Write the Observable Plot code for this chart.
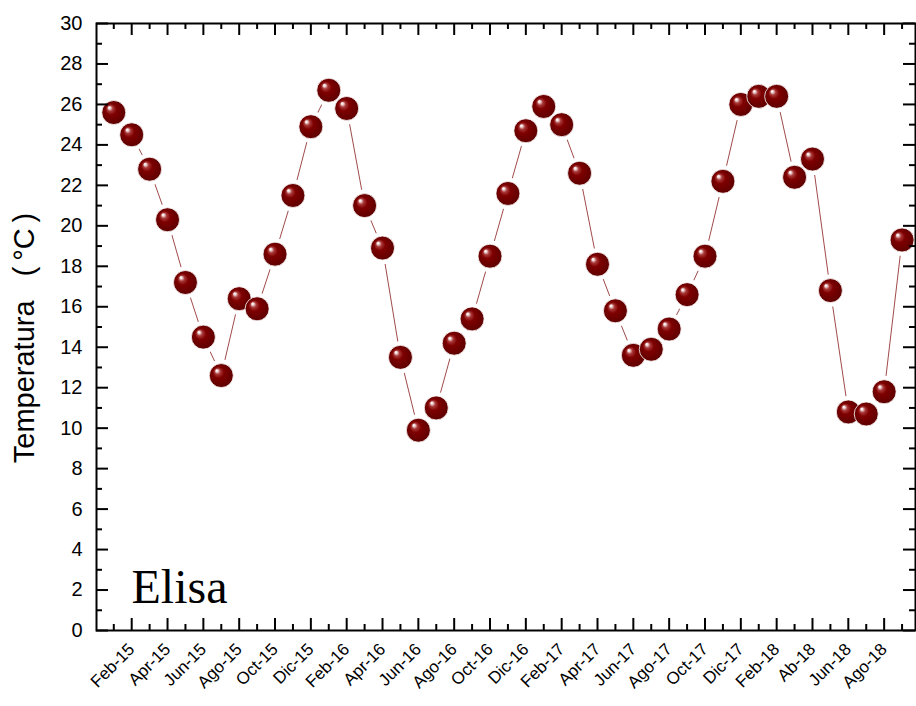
<!DOCTYPE html>
<html><head><meta charset="utf-8">
<script src="https://cdn.jsdelivr.net/npm/d3@7"></script>
<script src="https://cdn.jsdelivr.net/npm/@observablehq/plot@0.6"></script>
<style>body{margin:0;background:#fff} #chart{width:916px;height:706px}</style>
</head><body><div id="chart"></div>
<script>
const months = ["Ene-15","Feb-15","Mar-15","Abr-15","May-15","Jun-15","Jul-15","Ago-15","Sep-15","Oct-15","Nov-15","Dic-15",
  "Ene-16","Feb-16","Mar-16","Abr-16","May-16","Jun-16","Jul-16","Ago-16","Sep-16","Oct-16","Nov-16","Dic-16",
  "Ene-17","Feb-17","Mar-17","Abr-17","May-17","Jun-17","Jul-17","Ago-17","Sep-17","Oct-17","Nov-17","Dic-17",
  "Ene-18","Feb-18","Mar-18","Abr-18","May-18","Jun-18","Jul-18","Ago-18","Sep-18"];
const temps = [25.6, 24.5, 22.8, 20.3, 17.2, 14.5, 12.6, 16.4, 15.9, 18.6, 21.5, 24.9,
  26.7, 25.8, 21.0, 18.9, 13.5, 9.9, 11.0, 14.2, 15.4, 18.5, 21.6, 24.7,
  25.9, 25.0, 22.6, 18.1, 15.8, 13.6, 13.9, 14.9, 16.6, 18.5, 22.2, 26.0,
  26.4, 26.4, 22.4, 23.3, 16.8, 10.8, 10.7, 11.8, 19.3];
const tickLabels = ["Feb-15","Apr-15","Jun-15","Ago-15","Oct-15","Dic-15","Feb-16","Apr-16","Jun-16","Ago-16","Oct-16","Dic-16",
  "Feb-17","Apr-17","Jun-17","Ago-17","Oct-17","Dic-17","Feb-18","Ab-18","Jun-18","Ago-18"];
const yMajor = [0,2,4,6,8,10,12,14,16,18,20,22,24,26,28,30];
const yMinor = [1,3,5,7,9,11,13,15,17,19,21,23,25,27,29];
const seriesName = "Elisa";
const yTitle = "Temperatura\u00a0\u00a0\u00a0(\u2009°C\u2009)";

const data = months.map((m, i) => ({i, month: m, t: temps[i]}));
const xMajor = tickLabels.map((_, k) => 2 * k + 1);
const xMinor = months.map((_, i) => i).filter(i => i % 2 === 0);

const W = 916, H = 706, mL = 96, mR = 1, mT = 23, mB = 76;
const FW = W - mL - mR, FH = H - mT - mB;
const MAJ = 12, MIN = 6;

const plot = Plot.plot({
  width: W, height: H,
  marginLeft: mL, marginRight: mR, marginTop: mT, marginBottom: mB,
  style: {fontFamily: "'Liberation Sans', Arial, sans-serif", background: "white", color: "black"},
  x: {domain: [-0.965, 44.75]},
  y: {domain: [0, 30]},
  marks: [
    Plot.line(data, {x: "i", y: "t", stroke: "#a04a4a", strokeWidth: 1}),
    Plot.dot(data, {x: "i", y: "t", r: 16, fill: "white"}),
    Plot.dot(data, {x: "i", y: "t", r: 12, fill: "url(#sphere)", stroke: "white", strokeWidth: 0.8}),
    Plot.tickX(xMajor, {x: d => d, insetTop: FH - MAJ, stroke: "black", strokeWidth: 2}),
    Plot.tickX(xMinor, {x: d => d, insetTop: FH - MIN, stroke: "black", strokeWidth: 2}),
    Plot.tickX(xMajor, {x: d => d, insetBottom: FH - MAJ, stroke: "black", strokeWidth: 2}),
    Plot.tickX(xMinor, {x: d => d, insetBottom: FH - MIN, stroke: "black", strokeWidth: 2}),
    Plot.tickY(yMajor, {y: d => d, insetRight: FW - MAJ, stroke: "black", strokeWidth: 2}),
    Plot.tickY(yMinor, {y: d => d, insetRight: FW - MIN, stroke: "black", strokeWidth: 2}),
    Plot.tickY(yMajor, {y: d => d, insetLeft: FW - MAJ, stroke: "black", strokeWidth: 2}),
    Plot.tickY(yMinor, {y: d => d, insetLeft: FW - MIN, stroke: "black", strokeWidth: 2}),
    Plot.frame({stroke: "black", strokeWidth: 2}),
    Plot.axisY({ticks: yMajor, tickSize: 0, tickPadding: 14, fontSize: 20, label: null}),
    Plot.axisX({ticks: xMajor, tickFormat: d => tickLabels[(d - 1) / 2], tickRotate: -45, tickSize: 0, tickPadding: 16, fontSize: 17, label: null}),
    Plot.text([seriesName], {frameAnchor: "bottom-left", dx: 35, dy: -28, textAnchor: "start", lineAnchor: "bottom", fontSize: 48, fontFamily: "'Liberation Serif', 'Times New Roman', serif", fill: "black"}),
    Plot.text([yTitle], {frameAnchor: "left", rotate: -90, dx: -63, dy: 11, textAnchor: "middle", lineAnchor: "bottom", fontSize: 29, fill: "black"})
  ]
});

const svg = d3.select(plot);
const defs = svg.insert("defs", ":first-child");
const g = defs.append("radialGradient").attr("id", "sphere")
  .attr("cx", "0.5").attr("cy", "0.5").attr("r", "0.55").attr("fx", "0.3").attr("fy", "0.28");
[["0", "#ffffff"], ["0.08", "#f4e0e0"], ["0.22", "#a83838"], ["0.42", "#7e0000"], ["1", "#5a0000"]]
  .forEach(([o, c]) => g.append("stop").attr("offset", o).attr("stop-color", c));

document.getElementById("chart").appendChild(plot);
</script>
</body></html>
